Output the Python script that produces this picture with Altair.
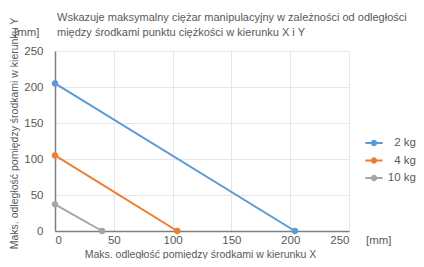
import altair as alt
import pandas as pd

series = ["2 kg", "2 kg", "4 kg", "4 kg", "10 kg", "10 kg"]
x_vals = [0, 204, 0, 104, 0, 40]
y_vals = [205, 0, 105, 0, 37, 0]
order = ["2 kg", "4 kg", "10 kg"]
colors = ["#5b9bd5", "#ed7d31", "#a5a5a5"]
ticks = [0, 50, 100, 150, 200, 250]
title_lines = ["Wskazuje maksymalny ciężar manipulacyjny w zależności od odległości",
               "między środkami punktu ciężkości w kierunku X i Y"]

df = pd.DataFrame({"s": series, "x": x_vals, "y": y_vals})
FONT = "Liberation Sans"
GREY = "#595959"

base = alt.Chart(df)
lines = base.mark_line(strokeWidth=2, point=alt.OverlayMarkDef(size=40, filled=True)).encode(
    x=alt.X("x:Q", scale=alt.Scale(domain=[0, 250], nice=False),
            axis=alt.Axis(values=ticks, title="Maks. odległość pomiędzy środkami w kierunku X",
                          titleX=145, titleY=23, titleBaseline="middle", titleFontWeight="normal",
                          titleFontSize=10.5, titleColor=GREY, labelColor=GREY, labelFontSize=11.5,
                          labelPadding=3, ticks=False, domainColor="#7f7f7f", domainWidth=1.5,
                          gridColor="#e6e6e6", labelFont=FONT, titleFont=FONT)),
    y=alt.Y("y:Q", scale=alt.Scale(domain=[0, 250], nice=False),
            axis=alt.Axis(values=ticks, title="Maks. odległość pomiędzy środkami w kierunku Y",
                          titleX=-41, titleY=82, titleBaseline="middle", titleFontWeight="normal",
                          titleFontSize=10.5, titleColor=GREY, labelColor=GREY, labelFontSize=11.5,
                          labelPadding=12, ticks=False, domainColor="#7f7f7f", domainWidth=1.5,
                          gridColor="#e6e6e6", labelFont=FONT, titleFont=FONT)),
    color=alt.Color("s:N", scale=alt.Scale(domain=order, range=colors),
                    legend=alt.Legend(title=None, orient="none", legendX=309, legendY=82,
                                      symbolType="M-1,0H1M0.25,0A0.25,0.25,0,1,1,-0.25,0A0.25,0.25,0,1,1,0.25,0Z",
                                      symbolSize=300, symbolStrokeWidth=2,
                                      labelAlign="right", labelOffset=32, labelFontSize=11.5,
                                      labelColor=GREY, labelFont=FONT, rowPadding=0.5)),
    detail="s:N",
)

txt_data = alt.Data(values=[{"a": 1}])
def label(text, x, y, align="left", size=11.5):
    return alt.Chart(txt_data).mark_text(align=align, baseline="middle", fontSize=size,
                                         font=FONT, color=GREY).encode(
        x=alt.value(x), y=alt.value(y), text=alt.value(text))

chart = alt.layer(
    lines,
    label(title_lines[0], 2, -33, size=11),
    label(title_lines[1], 2, -18, size=11),
    label("[mm]", -41, -18),
    label("[mm]", 311, 190),
).properties(
    width=294, height=180,
    autosize=alt.AutoSizeParams(type="none"),
    padding={"left": 47, "top": 43, "right": 67, "bottom": 28},
).configure_view(stroke=None)

chart.save("out.html", embed_options={"renderer": "svg", "actions": False})
